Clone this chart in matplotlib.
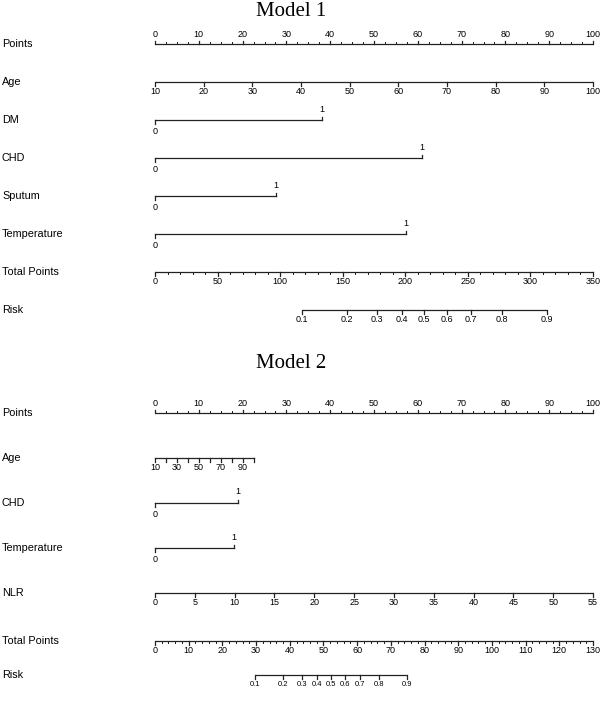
import numpy as np
import matplotlib
matplotlib.use("Agg")
import matplotlib.pyplot as plt
from matplotlib.transforms import blended_transform_factory

plt.rcParams['font.family'] = ['Liberation Sans Narrow', 'Liberation Sans', 'DejaVu Sans']

# ---- Model 1 ----
m1_points_labels = list(range(0, 101, 10))
m1_age_labels = list(range(10, 101, 10))
m1_age_max_points = 100
m1_vars = ["DM", "CHD", "Sputum", "Temperature"]
m1_var_points = [38.1, 60.9, 27.6, 57.2]
m1_total_labels = list(range(0, 351, 50))
m1_total_max = 350
m1_risk_labels = [0.1, 0.2, 0.3, 0.4, 0.5, 0.6, 0.7, 0.8, 0.9]
m1_risk_total = [117.5, 153.7, 177.6, 197.4, 215.2, 233.3, 252.8, 277.3, 313.2]

# ---- Model 2 ----
m2_points_labels = list(range(0, 101, 10))
m2_age_labels = [10, 30, 50, 70, 90]
m2_age_ticks = list(range(10, 101, 10))
m2_age_max_points = 22.6
m2_vars = ["CHD", "Temperature"]
m2_var_points = [19.0, 18.1]
m2_nlr_labels = list(range(0, 56, 5))
m2_total_labels = list(range(0, 131, 10))
m2_total_max = 130
m2_risk_labels = [0.1, 0.2, 0.3, 0.4, 0.5, 0.6, 0.7, 0.8, 0.9]
m2_risk_total = [29.7, 38.0, 43.5, 48.0, 52.2, 56.3, 60.8, 66.4, 74.7]

W, H = 600, 701
x0_px, x100_px = 155, 593
ppt = (x100_px - x0_px) / 100.0

fig = plt.figure(figsize=(6, 7.01), dpi=100)
ax = fig.add_axes([0, 0, 1, 1])
ax.set_xlim(-x0_px / ppt, (W - x0_px) / ppt)
ax.set_ylim(H, 0)
ax.axis("off")
lab_tr = blended_transform_factory(fig.transFigure, ax.transData)

LW = 0.9
COL = "#222222"
TFS = 6.5
tick_len = 3.5
minor_len = 2.0


def row_label(y, text):
    ax.text(2 / W, y, text, transform=lab_tr, fontsize=7.8, ha="left", va="center", color="black")


def scale_row(y, major_pos, major_text, minor_pos=(), up=False, fs=TFS):
    lo, hi = min(major_pos), max(major_pos)
    ax.plot([lo, hi], [y, y], color=COL, lw=LW, solid_capstyle="butt")
    s = -1 if up else 1
    for p in minor_pos:
        ax.plot([p, p], [y, y + s * minor_len], color=COL, lw=LW * 0.8)
    for p, t in zip(major_pos, major_text):
        ax.plot([p, p], [y, y + s * tick_len], color=COL, lw=LW)
        ax.text(p, y + s * 9.5, t, fontsize=fs, ha="center", va="center", color="black")


def binary_row(y, pts):
    ax.plot([0, pts], [y, y], color=COL, lw=LW)
    ax.plot([0, 0], [y, y + tick_len], color=COL, lw=LW)
    ax.plot([pts, pts], [y, y - tick_len], color=COL, lw=LW)
    ax.text(0, y + 11.5, "0", fontsize=TFS, ha="center", va="center")
    ax.text(pts, y - 11, "1", fontsize=TFS, ha="center", va="center")


def fmt(v):
    return f"{v:g}"


# Model 1
ax.text(0.485, 1 - 11 / H, "Model 1", transform=fig.transFigure, family="Liberation Serif",
        fontsize=15, ha="center", va="center")
rows1 = [44, 82, 120, 158, 196, 234, 272, 310]
row_label(rows1[0], "Points")
scale_row(rows1[0], m1_points_labels, [fmt(v) for v in m1_points_labels],
          minor_pos=np.arange(0, 100.1, 2.5), up=True)
row_label(rows1[1], "Age")
age_pts = [(v - m1_age_labels[0]) / (m1_age_labels[-1] - m1_age_labels[0]) * m1_age_max_points
           for v in m1_age_labels]
scale_row(rows1[1], age_pts, [fmt(v) for v in m1_age_labels])
for y, name, p in zip(rows1[2:6], m1_vars, m1_var_points):
    row_label(y, name)
    binary_row(y, p)
row_label(rows1[6], "Total Points")
scale_row(rows1[6], [v / m1_total_max * 100 for v in m1_total_labels], [fmt(v) for v in m1_total_labels],
          minor_pos=[v / m1_total_max * 100 for v in range(0, 351, 10)])
row_label(rows1[7], "Risk")
scale_row(rows1[7], [v / m1_total_max * 100 for v in m1_risk_total], [fmt(v) for v in m1_risk_labels])

# Model 2
ax.text(0.485, 1 - 364 / H, "Model 2", transform=fig.transFigure, family="Liberation Serif",
        fontsize=15, ha="center", va="center")
rows2 = [413, 458, 503, 548, 593, 641, 675]
row_label(rows2[0], "Points")
scale_row(rows2[0], m2_points_labels, [fmt(v) for v in m2_points_labels],
          minor_pos=np.arange(0, 100.1, 2.5), up=True)
row_label(rows2[1], "Age")
a0, a1 = m2_age_ticks[0], m2_age_ticks[-1]
age2_tick_pts = [(v - a0) / (a1 - a0) * m2_age_max_points for v in m2_age_ticks]
ax.plot([0, m2_age_max_points], [rows2[1]] * 2, color=COL, lw=LW)
for p in age2_tick_pts:
    ax.plot([p, p], [rows2[1], rows2[1] + tick_len], color=COL, lw=LW)
for v in m2_age_labels:
    ax.text((v - a0) / (a1 - a0) * m2_age_max_points, rows2[1] + 9.5, fmt(v),
            fontsize=TFS, ha="center", va="center")
for y, name, p in zip(rows2[2:4], m2_vars, m2_var_points):
    row_label(y, name)
    binary_row(y, p)
row_label(rows2[4], "NLR")
scale_row(rows2[4], [v / m2_nlr_labels[-1] * 100 for v in m2_nlr_labels], [fmt(v) for v in m2_nlr_labels])
row_label(rows2[5], "Total Points")
scale_row(rows2[5], [v / m2_total_max * 100 for v in m2_total_labels], [fmt(v) for v in m2_total_labels],
          minor_pos=[v / m2_total_max * 100 for v in range(0, 131, 2)])
row_label(rows2[6], "Risk")
scale_row(rows2[6], [v / m2_total_max * 100 for v in m2_risk_total], [fmt(v) for v in m2_risk_labels], fs=5.5)

fig.savefig("out.png", dpi=100, facecolor="white")
